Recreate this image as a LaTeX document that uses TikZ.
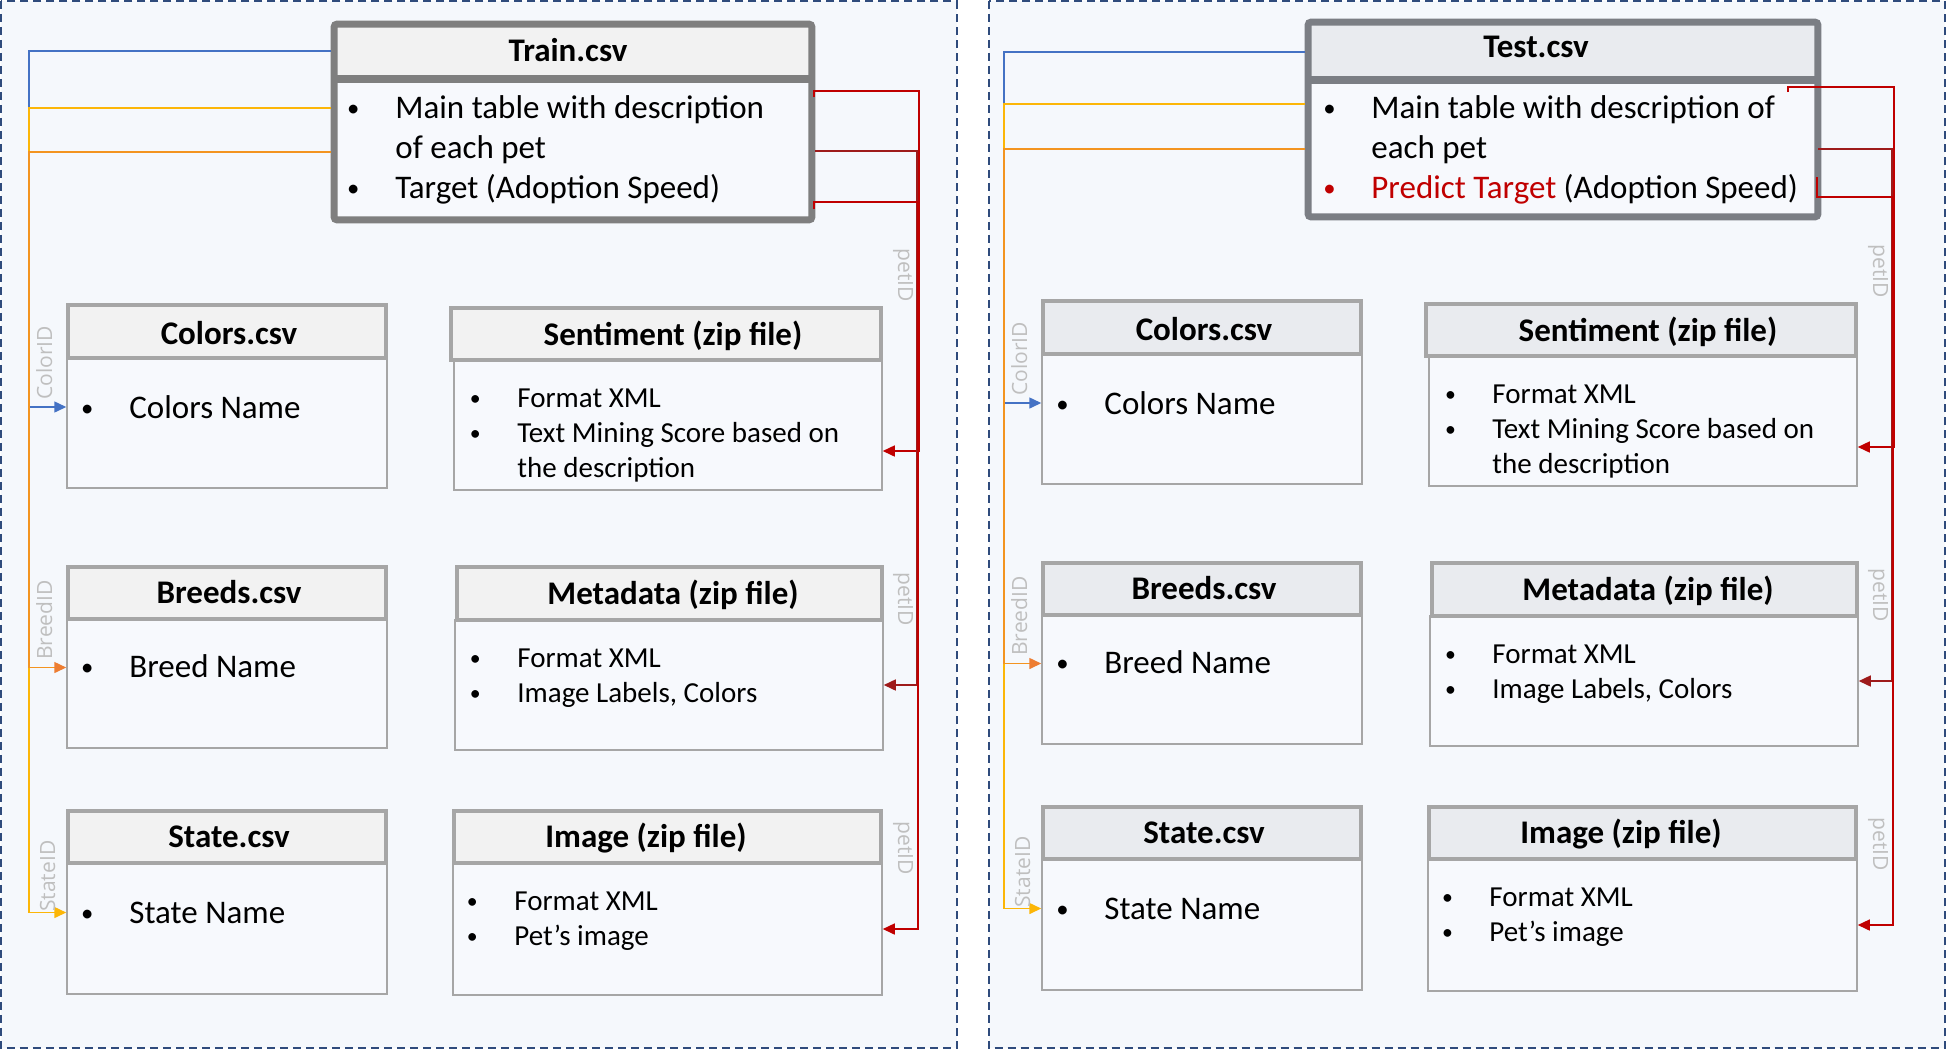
\documentclass[tikz,border=0pt]{standalone}
\usepackage{fontspec}
\setmainfont{Carlito}
\newfontfamily\idfont{Open Sans}
\usetikzlibrary{arrows.meta,fit}
\definecolor{panelbg}{HTML}{F5F8FC}
\definecolor{paneledge}{HTML}{2F4B7C}
\definecolor{bodybg}{HTML}{F7F9FD}
\definecolor{hdrleft}{HTML}{F2F2F2}
\definecolor{hdrright}{HTML}{E9EBEF}
\definecolor{edgegray}{HTML}{A6A6A6}
\definecolor{framegray}{HTML}{7F7F7F}
\definecolor{framegrayb}{HTML}{7B7E84}
\definecolor{idgray}{HTML}{BFBFBF}
\definecolor{keyblue}{HTML}{4472C4}
\definecolor{keyorange}{HTML}{ED7D31}
\definecolor{keyyellow}{HTML}{FFC000}
\definecolor{petred}{HTML}{C00000}
\definecolor{petdark}{HTML}{9E1B1B}
\tikzstyle{panel}=[fill=panelbg, draw=paneledge, line width=1pt, dash pattern=on 4pt off 2.5pt]
\tikzstyle{frame}=[draw=framegray, line width=3.5pt, rounded corners=1.5pt]
\tikzstyle{hdrbox}=[draw=edgegray, line width=1.75pt, inner sep=0pt]
\tikzstyle{bodybox}=[draw=edgegray, line width=0.75pt, fill=bodybg, inner sep=0pt]
\tikzstyle{ttl}=[anchor=base, inner sep=0pt, font=\fontsize{16.5}{20}\selectfont\bfseries]
\tikzstyle{bigtxt}=[anchor=base west, inner sep=0pt, font=\fontsize{16.5}{20}\selectfont]
\tikzstyle{smalltxt}=[anchor=base west, inner sep=0pt, font=\fontsize{14.5}{17.5}\selectfont]
\tikzstyle{idlabel}=[anchor=base west, inner sep=0pt, text=idgray, font=\idfont\fontsize{10.5}{12}\selectfont]
\tikzstyle{link}=[line width=0.75pt, -{Triangle[length=6pt,width=5.5pt]}]
\newcommand{\bul}{\llap{\makebox[42pt]{\raisebox{0.06em}{\scalebox{0.75}{\textbullet}}}}}

% the six side tables of one panel, with their key lines
\newcommand{\sidetables}[1]{
  \node[bodybox, fit={(67,358) (387,488)}] (colb) {};
  \node[hdrbox, fill=#1, fit={(68,305) (386,358)}] (colh) {};
  \node[bodybox, fit={(454,360) (882,490)}] (sentb) {};
  \node[hdrbox, fill=#1, fit={(451,308) (881,360)}] (senth) {};
  \node[bodybox, fit={(67,619) (387,748)}] (brdb) {};
  \node[hdrbox, fill=#1, fit={(68,567) (386,619)}] (brdh) {};
  \node[bodybox, fit={(455,620) (883,750)}] (metab) {};
  \node[hdrbox, fill=#1, fit={(457,567) (882,620)}] (metah) {};
  \node[bodybox, fit={(67,863) (387,994)}] (stab) {};
  \node[hdrbox, fill=#1, fit={(68,811) (386,863)}] (stah) {};
  \node[bodybox, fit={(453,863) (882,995)}] (imgb) {};
  \node[hdrbox, fill=#1, fit={(454,811) (881,863)}] (imgh) {};
  % titles
  \node[ttl] (colt) at (229,344) {Colors.csv};
  \node[ttl] (sentt) at (673,345) {Sentiment (zip file)};
  \node[ttl] (brdt) at (229,603) {Breeds.csv};
  \node[ttl] (metat) at (673,604) {Metadata (zip file)};
  \node[ttl] (stat) at (229,847) {State.csv};
  \node[ttl] (imgt) at (646,847) {Image (zip file)};
  % contents
  \node[bigtxt] (col1) at (129,418) {\bul Colors Name};
  \node[smalltxt] (sent1) at (517,407) {\bul Format XML};
  \node[smalltxt] (sent2) at (517,442) {\bul Text Mining Score based on};
  \node[smalltxt] (sent3) at (517,477) {the description};
  \node[bigtxt] (brd1) at (129,677) {\bul Breed Name};
  \node[smalltxt] (meta1) at (517,667) {\bul Format XML};
  \node[smalltxt] (meta2) at (517,702) {\bul Image Labels, Colors};
  \node[bigtxt] (sta1) at (129,923) {\bul State Name};
  \node[smalltxt] (img1) at (514,910) {\bul Format XML};
  \node[smalltxt] (img2) at (514,945) {\bul Pet’s image};
  % trunks
  \coordinate (ltr) at (29,0);
  \coordinate (rtr1) at (919,0);
  \coordinate (rtr2) at (917,0);
  \coordinate (rtr3) at (918,0);
  \draw[link, keyblue] (tb) -- (tb -| ltr) |- ([yshift=8pt]colb.west);
  \draw[link, keyyellow!85!keyorange] (ty) -- (ty -| ltr) |- ([yshift=8pt]stab.west);
  \draw[line width=0.75pt, keyorange!65!keyyellow, -{Triangle[length=6pt,width=5.5pt,color=keyorange]}] (to) -- (to -| ltr) |- ([yshift=8pt]brdb.west);
  \draw[link, petred] (r1s) -- (r1c) -- (r1c -| rtr1) |- ([yshift=-13pt]sentb.east);
  \draw[link, petdark] (r2s) -- (r2s -| rtr2) |- (metab.east);
  \draw[link, petred] (r3s) -- (r3c) -- (r3c -| rtr3) |- (imgb.east);
  % key names
  \node[idlabel, rotate=90] (cid) at (52,400) {ColorID};
  \node[idlabel, rotate=90] (bid) at (52,660) {BreedID};
  \node[idlabel, rotate=90] (sid) at (55,912) {StateID};
  \node[idlabel, rotate=-90] (pid1) at (898,248) {petID};
  \node[idlabel, rotate=-90] (pid2) at (898,572) {petID};
  \node[idlabel, rotate=-90] (pid3) at (898,821) {petID};
}

\begin{document}
\begin{tikzpicture}[x=0.5pt, y=-0.5pt]
\useasboundingbox (0,0) rectangle (1946,1050);
\fill[white] (0,0) rectangle (1946,1050);
\path[panel] (1,1) rectangle (956.5,1048);
\path[panel] (988.5,1) rectangle (1944.5,1048);

% Train.csv
\node[fill=bodybg, inner sep=0pt, fit={(334.5,78.5) (811.5,219.5)}] (trainb) {};
\node[fill=hdrleft, inner sep=0pt, fit={(334.5,24.5) (811.5,78.5)}] (trainh) {};
\draw[frame] (trainh.north west) rectangle (trainb.south east);
\draw[frame, line width=4pt, rounded corners=0pt] (trainh.south west) -- (trainh.south east);
\node[ttl] (traint) at (568,61) {Train.csv};
\node[bigtxt] (tr1) at (395,118) {\bul Main table with description};
\node[bigtxt] (tr2) at (395,158) {of each pet};
\node[bigtxt] (tr3) at (395,198) {\bul Target (Adoption Speed)};

\coordinate (tb) at (331,51);
\coordinate (ty) at (331,108);
\coordinate (to) at (331,152);
\coordinate (r1s) at (814,97);
\coordinate (r1c) at (814,91);
\coordinate (r2s) at (815,151);
\coordinate (r3s) at (814,209);
\coordinate (r3c) at (814,202);
\sidetables{hdrleft}

% Test.csv
\node[fill=bodybg, inner sep=0pt, fit={(1308.5,79.5) (1817.5,216.5)}] (testb) {};
\node[fill=hdrright, inner sep=0pt, fit={(1308.5,22.5) (1817.5,79.5)}] (testh) {};
\draw[frame, draw=framegrayb] (testh.north west) rectangle (testb.south east);
\draw[frame, draw=framegrayb, line width=4pt, rounded corners=0pt] (testh.south west) -- (testh.south east);
\node[ttl] (testt) at (1536,57) {Test.csv};
\node[bigtxt] (te1) at (1371,118) {\bul Main table with description of};
\node[bigtxt] (te2) at (1371,158) {each pet};
\node[bigtxt] (te3) at (1371,198) {\textcolor{petred}{\bul Predict Target} (Adoption Speed)};

\coordinate (tb) at (1305,52);
\coordinate (ty) at (1305,104);
\coordinate (to) at (1305,149);
\coordinate (r1s) at (1788,92);
\coordinate (r1c) at (1788,87);
\coordinate (r2s) at (1818,149);
\coordinate (r3s) at (1817,177);
\coordinate (r3c) at (1817,197);
\begin{scope}[shift={(975,-4)}]
\sidetables{hdrright}
\end{scope}
\end{tikzpicture}
\end{document}
